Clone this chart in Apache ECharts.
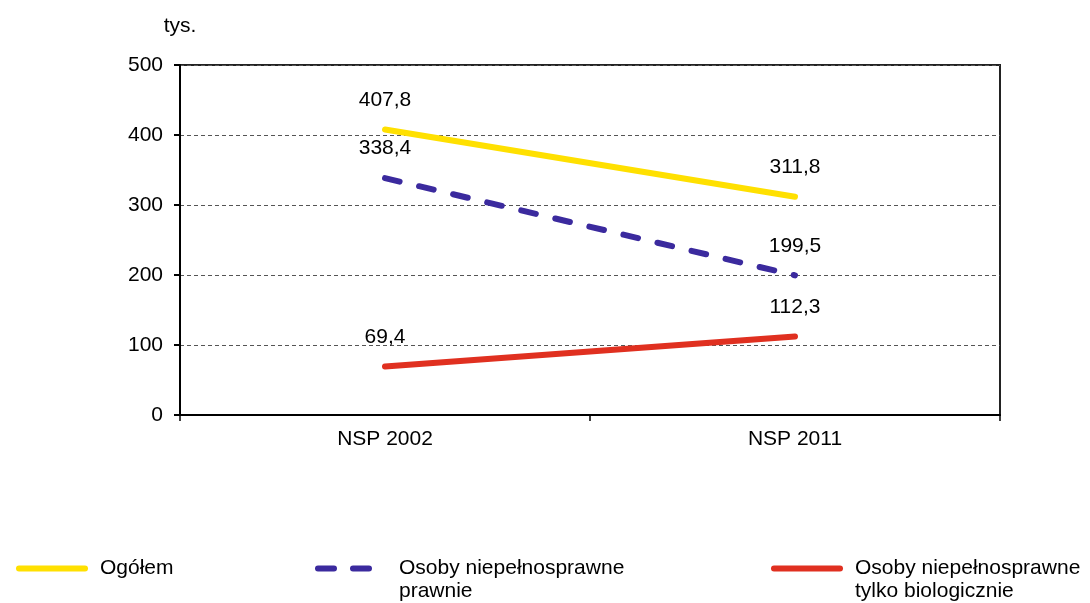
<!DOCTYPE html>
<html><head><meta charset="utf-8">
<script src="https://cdn.jsdelivr.net/npm/echarts@6/dist/echarts.min.js"></script>
<style>html,body{margin:0;padding:0;background:#fff}#c{width:1090px;height:603px}</style>
</head><body><div id="c"></div>
<script>
const categories = ['NSP 2002', 'NSP 2011'];
const seriesNames = ['Ogółem', 'Osoby niepełnosprawne prawnie', 'Osoby niepełnosprawne tylko biologicznie'];
const ogolem = [407.8, 311.8];
const prawnie = [338.4, 199.5];
const biologicznie = [69.4, 112.3];
const yTicks = [0, 100, 200, 300, 400, 500];

const font = 'Liberation Sans, Arial, sans-serif';
const FS = 21;
const fmt = p => String(p.value).replace('.', ',');
const chart = echarts.init(document.getElementById('c'), null, {renderer: 'canvas'});
function lbl() {
  return {show: true, position: 'top', distance: 19, formatter: fmt, color: '#000', fontSize: FS, fontFamily: font};
}
function legend(name, left, multiline, dashed) {
  return {
    data: [name], left: left, top: multiline ? 534 : 557, orient: 'horizontal', itemWidth: 66, itemHeight: 20,
    padding: 0, selectedMode: false,
    itemStyle: {opacity: 0},
    lineStyle: {width: 6, cap: 'round', type: dashed ? [16, 19] : 'solid'},
    formatter: n => multiline ? ' \n' + n.replace(/ (prawnie|tylko biologicznie)$/, '\n$1') : n,
    textStyle: {fontSize: FS, fontFamily: font, color: '#000', lineHeight: 23, padding: [0, 0, 0, 10]}
  };
}
chart.setOption({
  animation: false,
  backgroundColor: '#fff',
  grid: {left: 180, right: 90, top: 65, bottom: 188, show: true, borderColor: '#222', borderWidth: 2, backgroundColor: 'transparent'},
  legend: [legend(seriesNames[0], 16, false, false), legend(seriesNames[1], 315, true, true), legend(seriesNames[2], 771, true, false)],
  xAxis: {
    type: 'category', data: categories, boundaryGap: true,
    axisLine: {lineStyle: {color: '#000', width: 2}},
    axisTick: {show: true, length: 6, lineStyle: {color: '#000', width: 1.5}},
    axisLabel: {color: '#000', fontSize: FS, fontFamily: font, margin: 14},
    splitLine: {show: false}
  },
  yAxis: {
    type: 'value', min: yTicks[0], max: yTicks[yTicks.length - 1], interval: 100,
    name: 'tys.', nameLocation: 'end', nameGap: 28,
    nameTextStyle: {color: '#000', fontSize: FS, fontFamily: font, align: 'center'},
    axisLine: {show: true, lineStyle: {color: '#000', width: 2}},
    axisTick: {show: true, length: 6, lineStyle: {color: '#000', width: 2}},
    axisLabel: {color: '#000', fontSize: FS, fontFamily: font, margin: 17},
    splitLine: {show: true, lineStyle: {color: '#555', width: 1, type: [4, 3]}}
  },
  series: [
    {name: seriesNames[0], type: 'line', data: ogolem, symbol: 'circle', symbolSize: 0.1, showSymbol: true, z: 3,
      lineStyle: {color: '#FFE000', width: 6, cap: 'round'}, itemStyle: {color: '#FFE000'}, label: lbl()},
    {name: seriesNames[1], type: 'line', data: prawnie, symbol: 'circle', symbolSize: 0.1, showSymbol: true, z: 3,
      lineStyle: {color: '#3B2A9E', width: 6, type: [15, 20], cap: 'round'}, itemStyle: {color: '#3B2A9E'}, label: lbl()},
    {name: seriesNames[2], type: 'line', data: biologicznie, symbol: 'circle', symbolSize: 0.1, showSymbol: true, z: 3,
      lineStyle: {color: '#E03020', width: 6, cap: 'round'}, itemStyle: {color: '#E03020'}, label: lbl()}
  ]
});
</script></body></html>
